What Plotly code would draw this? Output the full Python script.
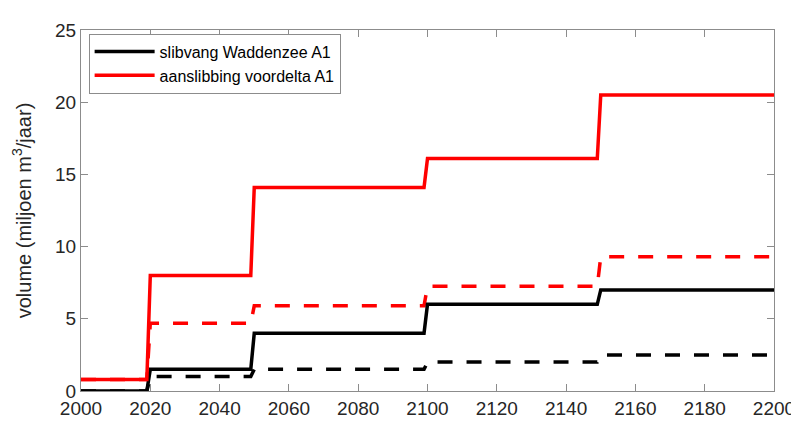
import plotly.graph_objects as go

# step years (short ramp of one year at each change)
years = [2000, 2019, 2020, 2049, 2050, 2099, 2100, 2149, 2150, 2200]

slibvang_solid = [0.0, 0.0, 1.5, 1.5, 4.0, 4.0, 6.0, 6.0, 7.0, 7.0]
slibvang_dash = [0.0, 0.0, 1.0, 1.0, 1.5, 1.5, 2.0, 2.0, 2.5, 2.5]
voordelta_solid = [0.8, 0.8, 8.0, 8.0, 14.1, 14.1, 16.1, 16.1, 20.5, 20.5]
voordelta_dash = [0.8, 0.8, 4.7, 4.7, 5.9, 5.9, 7.25, 7.25, 9.3, 9.3]

x_ticks = list(range(2000, 2201, 20))
y_ticks = [0, 5, 10, 15, 20, 25]

font = "Liberation Sans, Arial, sans-serif"
axis_col = "#8c8c8c"
text_col = "#262626"

fig = go.Figure()

fig.add_trace(go.Scatter(x=years, y=slibvang_dash, mode="lines", showlegend=False,
                         line=dict(color="black", width=3.5, dash="15px,14px")))
fig.add_trace(go.Scatter(x=years, y=voordelta_dash, mode="lines", showlegend=False,
                         line=dict(color="#ff0000", width=3.5, dash="15px,14px")))
fig.add_trace(go.Scatter(x=years, y=slibvang_solid, mode="lines", name="slibvang Waddenzee A1",
                         line=dict(color="black", width=3.5)))
fig.add_trace(go.Scatter(x=years, y=voordelta_solid, mode="lines", name="aanslibbing voordelta A1",
                         line=dict(color="#ff0000", width=3.5)))

fig.update_layout(
    width=799, height=423,
    margin=dict(l=73, r=23, t=18, b=34),
    paper_bgcolor="white", plot_bgcolor="white",
    font=dict(family=font, color=text_col, size=19),
    legend=dict(x=0.011, y=0.99, xanchor="left", yanchor="top",
                bgcolor="white", bordercolor=axis_col, borderwidth=1,
                font=dict(size=16, color="black"), traceorder="normal",
                itemwidth=60, tracegroupgap=0),
)

fig.update_xaxes(range=[2000, 2200], tickvals=x_ticks, ticks="inside", ticklen=7,
                 tickcolor=axis_col, showline=True, linecolor=axis_col, linewidth=1,
                 mirror="ticks", showgrid=False, zeroline=False,
                 tickfont=dict(size=19, color=text_col))
fig.update_yaxes(range=[0, 25], tickvals=y_ticks, ticks="inside", ticklen=7,
                 tickcolor=axis_col, showline=True, linecolor=axis_col, linewidth=1,
                 mirror="ticks", showgrid=False, zeroline=False,
                 tickfont=dict(size=19, color=text_col),
                 title=dict(text="volume (miljoen m<sup>3</sup>/jaar)", standoff=18,
                            font=dict(size=20, color=text_col)))

fig.write_html("out.html")
